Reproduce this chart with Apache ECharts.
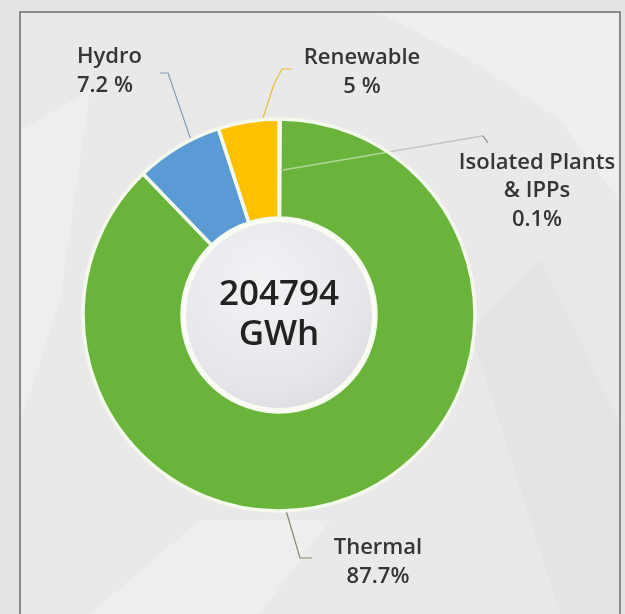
<!DOCTYPE html>
<html>
<head>
<meta charset="utf-8">
<script src="https://cdn.jsdelivr.net/npm/echarts@6/dist/echarts.min.js"></script>
<style>
html,body{margin:0;padding:0;background:#e4e4e4;}
#c{width:625px;height:614px;}
</style>
</head>
<body>
<div id="c"></div>
<script>
// ---- data ----
const categories = ['Isolated Plants\n& IPPs', 'Thermal', 'Hydro', 'Renewable'];
const shares = [0.1, 87.7, 7.2, 5];
const percentSep = ['', '', ' ', ' '];
const sliceColors = ['#6ab43c', '#6ab43c', '#5b9bd5', '#ffc000'];
const lineColors = ['#8a8a8a', '#7d8b6e', '#8a9ab2', '#e9bd3a'];
const centerLines = ['204794', 'GWh'];

// ---- layout (label placement & leader paths) ----
const CX = 279, CY = 315;
const labelPos = [
  {x: 537, y: 191, align: 'center', pts: [[283,170],[483,136],[488,143]]},
  {x: 378, y: 562, align: 'center', pts: [[285,507],[300,558],[312,558]]},
  {x: 77,  y: 71,  align: 'left',   pts: [[191,140],[168,73],[160,73]]},
  {x: 362, y: 72,  align: 'center', pts: [[262,121],[274,84],[282,69],[292,69]]}
];

const chart = echarts.init(document.getElementById('c'), null, {renderer: 'canvas'});

const textStyle = {
  fontFamily: 'Open Sans',
  fontSize: 22,
  fontWeight: 600,
  color: '#353535',
  lineHeight: 28.5
};

chart.setOption({
  backgroundColor: '#e4e4e4',
  animation: false,
  graphic: [
    {type: 'rect', silent: true, z: -10, shape: {x: 20, y: 12, width: 600, height: 640},
     style: {fill: '#e9e9e9', stroke: '#8a8a8a', lineWidth: 2}},
    {type: 'polygon', silent: true, z: -9,
     shape: {points: [[380,13],[619,13],[619,200],[560,120],[470,60]]},
     style: {fill: 'rgba(255,255,255,0.3)'}},
    {type: 'polygon', silent: true, z: -9,
     shape: {points: [[21,130],[90,90],[60,300],[21,420]]},
     style: {fill: 'rgba(255,255,255,0.25)'}},
    {type: 'polygon', silent: true, z: -9,
     shape: {points: [[90,614],[200,520],[330,520],[260,614]]},
     style: {fill: 'rgba(255,255,255,0.25)'}},
    {type: 'polygon', silent: true, z: -9,
     shape: {points: [[470,330],[540,260],[619,420],[619,614],[560,614]]},
     style: {fill: 'rgba(0,0,0,0.02)'}},
    // faint continuation of the isolated-plants leader over the ring
    {type: 'polyline', silent: true, z: 100,
     shape: {points: labelPos[0].pts.slice(0, 2)},
     style: {stroke: 'rgba(235,245,225,0.55)', lineWidth: 1.5}}
  ],
  series: [
    {
      type: 'pie',
      center: [CX, CY],
      radius: [97, 196],
      startAngle: 90,
      clockwise: true,
      avoidLabelOverlap: false,
      silent: true,
      itemStyle: {borderColor: '#f3faec', borderWidth: 3.5},
      data: categories.map((n, i) => ({
        name: n,
        value: shares[i],
        itemStyle: {color: sliceColors[i]},
        labelLine: {lineStyle: {color: lineColors[i], width: 1.2}}
      })),
      label: Object.assign({
        show: true,
        position: 'outside',
        formatter: p => p.name + '\n' + p.value + percentSep[p.dataIndex] + '%'
      }, textStyle),
      labelLine: {show: true, length: 10, length2: 10},
      labelLayout: function (params) {
        const L = labelPos[params.dataIndex];
        return {
          x: L.x, y: L.y,
          align: L.align,
          verticalAlign: 'middle',
          labelLinePoints: L.pts
        };
      }
    },
    {
      type: 'pie',
      center: [CX, CY],
      radius: [0, 95],
      silent: true,
      z: 3,
      itemStyle: {
        borderColor: '#f8fcf3',
        borderWidth: 4,
        color: {
          type: 'radial', x: 0.42, y: 0.35, r: 0.75,
          colorStops: [
            {offset: 0, color: '#f3f2f5'},
            {offset: 0.7, color: '#e6e5e9'},
            {offset: 1, color: '#d9d8dd'}
          ]
        }
      },
      label: {
        show: true,
        position: 'center',
        formatter: () => centerLines.join('\n'),
        fontFamily: 'Open Sans',
        fontSize: 35,
        fontWeight: 600,
        color: '#222222',
        lineHeight: 40
      },
      labelLine: {show: false},
      data: [{value: 1, name: 'total'}]
    }
  ]
});
</script>
</body>
</html>
